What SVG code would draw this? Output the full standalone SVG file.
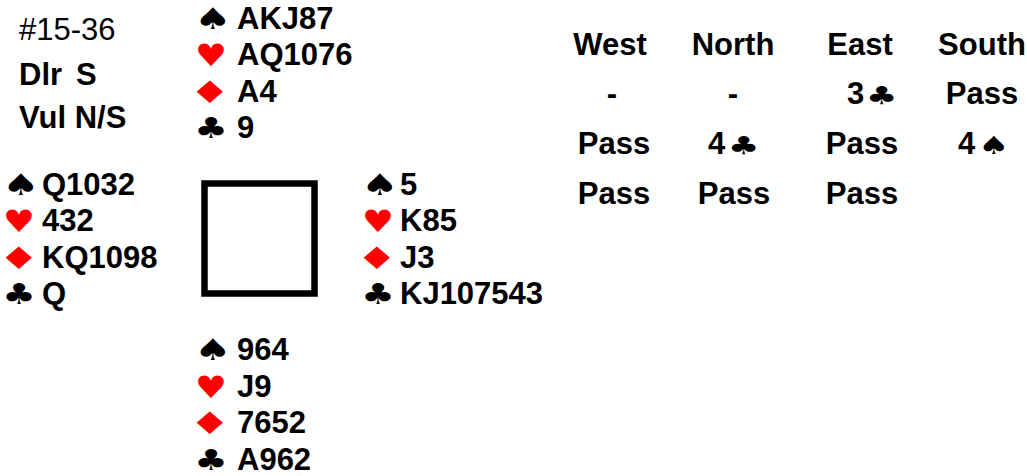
<svg xmlns="http://www.w3.org/2000/svg" width="1027" height="476" viewBox="0 0 1027 476">
<style>
text{font-family:"Liberation Sans",Arial,sans-serif;font-size:31px;fill:#000}
.b{font-weight:bold}
.sp,.h,.d,.c,.a{font-family:"DejaVu Sans",sans-serif}
.sp{font-size:30px}
.h{font-size:31px;fill:#ff0000}
.d{font-size:31px;fill:#ff0000}
.c{font-size:29px}
.a{font-size:25px}
.m{text-anchor:middle}
</style>
<rect width="1027" height="476" fill="#fff"/>
<g id="info">
<text x="19" y="40">#15-36</text>
<text class="b" x="19" y="85">Dlr</text><text class="b" x="76" y="85">S</text>
<text class="b" x="19" y="128">Vul N/S</text>
</g>
<g id="north">
<text class="sp" transform="translate(194,29) scale(1.4,1)">♠</text><text class="b" x="237" y="29">AKJ87</text>
<text class="h" transform="translate(195,66) scale(1.15,1)">♥</text><text class="b" x="237" y="65">AQ1076</text>
<text class="d" transform="translate(189,103) scale(1.5,1)">♦</text><text class="b" x="237" y="102">A4</text>
<text class="c" transform="translate(194,138) scale(1.3,1)">♣</text><text class="b" x="237" y="138">9</text>
</g>
<g id="west">
<text class="sp" transform="translate(2,195) scale(1.4,1)">♠</text><text class="b" x="42" y="195">Q1032</text>
<text class="h" transform="translate(3,232) scale(1.15,1)">♥</text><text class="b" x="42" y="231">432</text>
<text class="d" transform="translate(-2,269) scale(1.5,1)">♦</text><text class="b" x="42" y="268">KQ1098</text>
<text class="c" transform="translate(2,304) scale(1.3,1)">♣</text><text class="b" x="42" y="304">Q</text>
</g>
<g id="table">
<rect x="204.5" y="183.5" width="110" height="110" fill="none" stroke="#000" stroke-width="6.5"/>
</g>
<g id="east">
<text class="sp" transform="translate(361,195) scale(1.4,1)">♠</text><text class="b" x="400" y="195">5</text>
<text class="h" transform="translate(362,232) scale(1.15,1)">♥</text><text class="b" x="400" y="231">K85</text>
<text class="d" transform="translate(356,269) scale(1.5,1)">♦</text><text class="b" x="400" y="268">J3</text>
<text class="c" transform="translate(361,304) scale(1.3,1)">♣</text><text class="b" x="400" y="304">KJ107543</text>
</g>
<g id="south">
<text class="sp" transform="translate(194,360) scale(1.4,1)">♠</text><text class="b" x="237" y="360">964</text>
<text class="h" transform="translate(195,398) scale(1.15,1)">♥</text><text class="b" x="237" y="397">J9</text>
<text class="d" transform="translate(189,434) scale(1.5,1)">♦</text><text class="b" x="237" y="433">7652</text>
<text class="c" transform="translate(194,470) scale(1.3,1)">♣</text><text class="b" x="237" y="470">A962</text>
</g>
<g id="auction">
<text class="b m" x="610" y="55">West</text>
<text class="b m" x="733" y="55">North</text>
<text class="b m" x="860" y="55">East</text>
<text class="b m" x="982" y="55">South</text>
<text class="b m" x="612" y="104">-</text>
<text class="b m" x="733" y="104">-</text>
<text class="b" x="847" y="104">3</text><text class="a" transform="translate(866,104) scale(1.4,1)">♣</text>
<text class="b m" x="982" y="104">Pass</text>
<text class="b m" x="614" y="154">Pass</text>
<text class="b" x="708" y="154">4</text><text class="a" transform="translate(728,154) scale(1.4,1)">♣</text>
<text class="b m" x="862" y="154">Pass</text>
<text class="b" x="958" y="154">4</text><text class="a" transform="translate(978,154) scale(1.4,1)">♠</text>
<text class="b m" x="614" y="204">Pass</text>
<text class="b m" x="734" y="204">Pass</text>
<text class="b m" x="862" y="204">Pass</text>
</g>
</svg>
